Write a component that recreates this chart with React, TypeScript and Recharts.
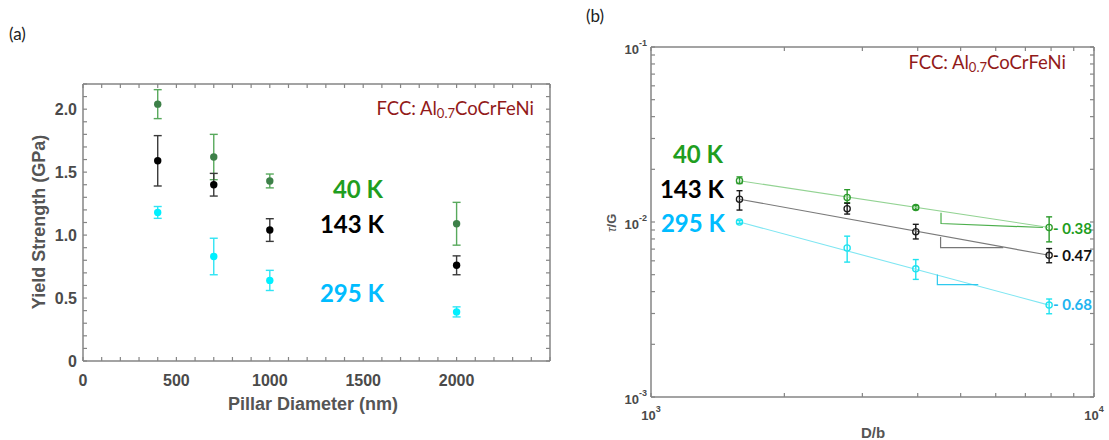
import React from "react";
import { ScatterChart, Scatter, XAxis, YAxis, ErrorBar } from "recharts";

// ---- panel (a): yield strength vs pillar diameter ----
const diameters = [400, 700, 1000, 2000];
const strength40K = [2.04, 1.62, 1.43, 1.09];
const strength40KErr = [0.115, 0.18, 0.055, 0.17];
const strength143K = [1.59, 1.4, 1.04, 0.76];
const strength143KErr = [0.2, 0.09, 0.09, 0.075];
const strength295K = [1.18, 0.83, 0.64, 0.39];
const strength295KErr = [0.047, 0.145, 0.08, 0.04];

const xMajorA = [0, 500, 1000, 1500, 2000];
const xLabelsA = ["0", "500", "1000", "1500", "2000"];
const yMajorA = [0, 0.5, 1.0, 1.5, 2.0];
const yLabelsA = ["0", "0.5", "1.0", "1.5", "2.0"];
const xTicksA = Array.from({ length: 26 }, (_, i) => i * 100);
const yTicksA = Array.from({ length: 23 }, (_, i) => i / 10);

// ---- panel (b): tau/G vs D/b (log-log) ----
const dOverB = [1584, 2772, 3960, 7920];
const tau40K = [0.0172, 0.0138, 0.0121, 0.0093];
const tau40KErr = [[0.0006, 0.0009], [0.0009, 0.0015], [0.0003, 0.0003], [0.0016, 0.0014]];
const tau143K = [0.0135, 0.0119, 0.0088, 0.00645];
const tau143KErr = [[0.0018, 0.0016], [0.0008, 0.0009], [0.0008, 0.0009], [0.0006, 0.0006]];
const tau295K = [0.01, 0.0071, 0.0054, 0.00335];
const tau295KErr = [[0.0002, 0.0002], [0.0012, 0.0012], [0.0007, 0.0007], [0.00036, 0.00028]];

const fitX = [1584, 7920];
const fit40K = [0.0172, 0.0093];
const fit143K = [0.0135, 0.00645];
const fit295K = [0.01, 0.00335];

const tri40KX = [4515, 4515, 7670];
const tri40KY = [0.0113, 0.0098, 0.0093];
const tri143KX = [4505, 4505, 6240];
const tri143KY = [0.0082, 0.00713, 0.00713];
const tri295KX = [4430, 4430, 5480];
const tri295KY = [0.00502, 0.00439, 0.00439];

const xMajorB = [1000, 10000];
const xExpB = ["3", "4"];
const yMajorB = [0.001, 0.01, 0.1];
const yExpB = ["-3", "-2", "-1"];
const xTicksB = [1000, 2000, 3000, 4000, 5000, 6000, 7000, 8000, 9000, 10000];
const yTicksB = [0.001, 0.01]
  .flatMap((d) => [1, 2, 3, 4, 5, 6, 7, 8, 9].map((m) => +(m * d).toPrecision(2)))
  .concat(0.1);

const GRAY = "#858585";
const TICK_TEXT = "#4a4a4a";
const GREEN_TEXT = "#1f9e1f";
const CYAN_TEXT = "#00bcff";
const RED = "#921a1a";

const pts = (xs: number[], ys: number[], errs?: any[]) =>
  xs.map((x, i) => ({ x, y: ys[i], err: errs ? errs[i] : 0 }));

const near = (a: number, b: number) => Math.abs(a - b) < 1e-9 * Math.max(1, Math.abs(b));

const EmptyTick = () => <g />;
const Hidden = () => <g />;

const tickFontA = {
  fontFamily: "'Liberation Sans', Arial, sans-serif",
  fontWeight: 700,
  fontSize: 16,
  fill: TICK_TEXT,
};
const tickFontB = {
  fontFamily: "'Liberation Sans', Arial, sans-serif",
  fontWeight: 700,
  fontSize: 13,
  fill: TICK_TEXT,
};

const XTickA = (p: any) => {
  const i = xMajorA.findIndex((m) => near(m, p.payload.value));
  if (i < 0) return <g />;
  return (
    <text x={p.x} y={p.y} textAnchor="middle" dominantBaseline="central" style={tickFontA}>
      {xLabelsA[i]}
    </text>
  );
};
const YTickA = (p: any) => {
  const i = yMajorA.findIndex((m) => near(m, p.payload.value));
  if (i < 0) return <g />;
  return (
    <text x={p.x} y={p.y} textAnchor="end" dominantBaseline="central" style={tickFontA}>
      {yLabelsA[i]}
    </text>
  );
};
const XTickB = (p: any) => {
  const i = xMajorB.findIndex((m) => near(m, p.payload.value));
  if (i < 0) return <g />;
  return (
    <text x={p.x} y={p.y} textAnchor="middle" dominantBaseline="central" style={tickFontB}>
      10<tspan dy={-6} fontSize={9}>{xExpB[i]}</tspan>
    </text>
  );
};
const YTickB = (p: any) => {
  const i = yMajorB.findIndex((m) => near(m, p.payload.value));
  if (i < 0) return <g />;
  return (
    <text x={p.x} y={p.y + 2} textAnchor="end" dominantBaseline="central" style={tickFontB}>
      10<tspan dy={-6} fontSize={9}>{yExpB[i]}</tspan>
    </text>
  );
};

const dot = (fill: string, r: number) => (p: any) =>
  <circle cx={p.cx} cy={p.cy} r={r} fill={fill} />;
const ring = (stroke: string) => (p: any) =>
  <circle cx={p.cx} cy={p.cy} r={3.1} fill="none" stroke={stroke} strokeWidth={1.3} />;

const axisLine = { stroke: GRAY, strokeWidth: 1.5 };
const tickLine = { stroke: GRAY, strokeWidth: 1.2 };

function PanelA() {
  const seriesA = [
    { ys: strength40K, err: strength40KErr, dot: "#3d8048", bar: "#58a95c" },
    { ys: strength143K, err: strength143KErr, dot: "#000000", bar: "#3a3a3a" },
    { ys: strength295K, err: strength295KErr, dot: "#00f0ff", bar: "#2fe4f4" },
  ];
  return (
    <ScatterChart width={560} height={440} margin={{ top: 83, right: 9, bottom: 78, left: 82 }}>
      <XAxis xAxisId="b" type="number" dataKey="x" domain={[0, 2500]} ticks={xTicksA} interval={0}
        allowDataOverflow height={1} tickSize={-4} tickMargin={23} tick={XTickA}
        axisLine={axisLine} tickLine={tickLine} />
      <XAxis xAxisId="t" orientation="top" type="number" dataKey="x" domain={[0, 2500]} ticks={xTicksA}
        interval={0} allowDataOverflow height={1} tickSize={-4} tick={EmptyTick}
        axisLine={axisLine} tickLine={tickLine} />
      <YAxis yAxisId="l" type="number" dataKey="y" domain={[0, 2.2]} ticks={yTicksA} interval={0}
        allowDataOverflow width={1} tickSize={-4} tickMargin={10} tick={YTickA}
        axisLine={axisLine} tickLine={tickLine} />
      <YAxis yAxisId="r" orientation="right" type="number" dataKey="y" domain={[0, 2.2]} ticks={yTicksA}
        interval={0} allowDataOverflow width={1} tickSize={-4} tick={EmptyTick}
        axisLine={axisLine} tickLine={tickLine} />
      <Scatter xAxisId="t" yAxisId="r" data={pts(diameters, strength40K)} shape={Hidden}
        isAnimationActive={false} />
      {seriesA.map((s, k) => (
        <Scatter key={k} xAxisId="b" yAxisId="l" data={pts(diameters, s.ys, s.err)}
          shape={dot(s.dot, 3.7)} isAnimationActive={false}>
          <ErrorBar dataKey="err" direction="y" width={4} stroke={s.bar} strokeWidth={1.4}
            isAnimationActive={false} />
        </Scatter>
      ))}
    </ScatterChart>
  );
}

function PanelB() {
  const fits = [
    { ys: fit40K, c: "#93d393" },
    { ys: fit143K, c: "#7a7a7a" },
    { ys: fit295K, c: "#7fe6f2" },
  ];
  const tris = [
    { xs: tri40KX, ys: tri40KY, c: "#4caf4c" },
    { xs: tri143KX, ys: tri143KY, c: "#777777" },
    { xs: tri295KX, ys: tri295KY, c: "#2ec9ee" },
  ];
  const series = [
    { ys: tau40K, err: tau40KErr, c: "#2b9a2b" },
    { ys: tau143K, err: tau143KErr, c: "#1a1a1a" },
    { ys: tau295K, err: tau295KErr, c: "#1ee3f0" },
  ];
  return (
    <ScatterChart width={549} height={440} margin={{ top: 46, right: 14, bottom: 42, left: 90 }}>
      <XAxis xAxisId="b" type="number" scale="log" dataKey="x" domain={[1000, 10000]} ticks={xTicksB}
        interval={0} allowDataOverflow height={1} tickSize={-4} tickMargin={22} tick={XTickB}
        axisLine={axisLine} tickLine={tickLine} />
      <XAxis xAxisId="t" orientation="top" type="number" scale="log" dataKey="x" domain={[1000, 10000]}
        ticks={xTicksB} interval={0} allowDataOverflow height={1} tickSize={-4} tick={EmptyTick}
        axisLine={axisLine} tickLine={tickLine} />
      <YAxis yAxisId="l" type="number" scale="log" dataKey="y" domain={[0.001, 0.1]} ticks={yTicksB}
        interval={0} allowDataOverflow width={1} tickSize={-4} tickMargin={8} tick={YTickB}
        axisLine={axisLine} tickLine={tickLine} />
      <YAxis yAxisId="r" orientation="right" type="number" scale="log" dataKey="y" domain={[0.001, 0.1]}
        ticks={yTicksB} interval={0} allowDataOverflow width={1} tickSize={-4} tick={EmptyTick}
        axisLine={axisLine} tickLine={tickLine} />
      <Scatter xAxisId="t" yAxisId="r" data={pts(dOverB, tau40K)} shape={Hidden}
        isAnimationActive={false} />
      {fits.map((f, k) => (
        <Scatter key={"f" + k} xAxisId="b" yAxisId="l" data={pts(fitX, f.ys)} shape={Hidden}
          line={{ stroke: f.c, strokeWidth: 1.1 }} isAnimationActive={false} />
      ))}
      {tris.map((t, k) => (
        <Scatter key={"t" + k} xAxisId="b" yAxisId="l" data={pts(t.xs, t.ys)} shape={Hidden}
          line={{ stroke: t.c, strokeWidth: 1.2 }} isAnimationActive={false} />
      ))}
      {series.map((s, k) => (
        <Scatter key={"s" + k} xAxisId="b" yAxisId="l" data={pts(dOverB, s.ys, s.err)}
          shape={ring(s.c)} isAnimationActive={false}>
          <ErrorBar dataKey="err" direction="y" width={3} stroke={s.c} strokeWidth={1.4}
            isAnimationActive={false} />
        </Scatter>
      ))}
    </ScatterChart>
  );
}

const lato = "Lato, 'Open Sans', sans-serif";
const arialB = "'Liberation Sans', Arial, sans-serif";

function Fcc({ x, y }: { x: number; y: number }) {
  return (
    <text x={x} y={y} textAnchor="end" dominantBaseline="central" fontFamily={lato}
      fontSize={18.5} fill={RED}>
      FCC: Al<tspan dy={5} fontSize={13}>0.7</tspan>
      <tspan dy={-5}>CoCrFeNi</tspan>
    </text>
  );
}

function TempLabel({ x, y, t, c }: { x: number; y: number; t: string; c: string }) {
  return (
    <text x={x} y={y} textAnchor="end" dominantBaseline="central" fontFamily={lato}
      fontWeight={700} fontSize={24} fill={c}>
      {t}
    </text>
  );
}

function SlopeLabel({ y, t, c }: { y: number; t: string; c: string }) {
  return (
    <text x={1053} y={y} dominantBaseline="central" fontFamily={lato} fontWeight={700}
      fontSize={15} fill={c}>
      {t}
    </text>
  );
}

export default function App() {
  return (
    <div style={{ position: "absolute", left: 0, top: 0, width: 1109, height: 440, background: "#fff" }}>
      <div style={{ position: "absolute", left: 0, top: 0 }}>
        <PanelA />
      </div>
      <div style={{ position: "absolute", left: 560, top: 0 }}>
        <PanelB />
      </div>
      <svg width={1109} height={440}
        style={{ position: "absolute", left: 0, top: 0, pointerEvents: "none" }}>
        <text x={9} y={33} dominantBaseline="central" fontFamily={lato} fontSize={17} fill="#222">(a)</text>
        <text x={586} y={15} dominantBaseline="central" fontFamily={lato} fontSize={17} fill="#222">(b)</text>

        <Fcc x={534} y={108} />
        <TempLabel x={383} y={188} t="40 K" c={GREEN_TEXT} />
        <TempLabel x={384} y={223} t="143 K" c="#000" />
        <TempLabel x={384} y={292} t="295 K" c={CYAN_TEXT} />
        <text x={313} y={404} textAnchor="middle" dominantBaseline="central" fontFamily={arialB}
          fontWeight={700} fontSize={18} fill="#555">Pillar Diameter (nm)</text>
        <text x={39} y={222} textAnchor="middle" dominantBaseline="central" fontFamily={arialB}
          fontWeight={700} fontSize={18} fill="#555" transform="rotate(-90 39 222)">
          Yield Strength (GPa)
        </text>

        <Fcc x={1066} y={62} />
        <TempLabel x={723} y={153} t="40 K" c={GREEN_TEXT} />
        <TempLabel x={724} y={188} t="143 K" c="#000" />
        <TempLabel x={725} y={222} t="295 K" c={CYAN_TEXT} />
        <SlopeLabel y={228} t="- 0.38" c={GREEN_TEXT} />
        <SlopeLabel y={255} t="- 0.47" c="#111" />
        <SlopeLabel y={304} t="- 0.68" c="#22b4f0" />
        <text x={873} y={432} textAnchor="middle" dominantBaseline="central" fontFamily={arialB}
          fontWeight={700} fontSize={15} fill="#555">D/b</text>
        <text x={611} y={223} textAnchor="middle" dominantBaseline="central" fontFamily={arialB}
          fontWeight={700} fontSize={13} fill="#555" transform="rotate(-90 611 223)">
          <tspan fontStyle="italic" fontWeight={400}>τ</tspan>/G
        </text>
      </svg>
    </div>
  );
}
